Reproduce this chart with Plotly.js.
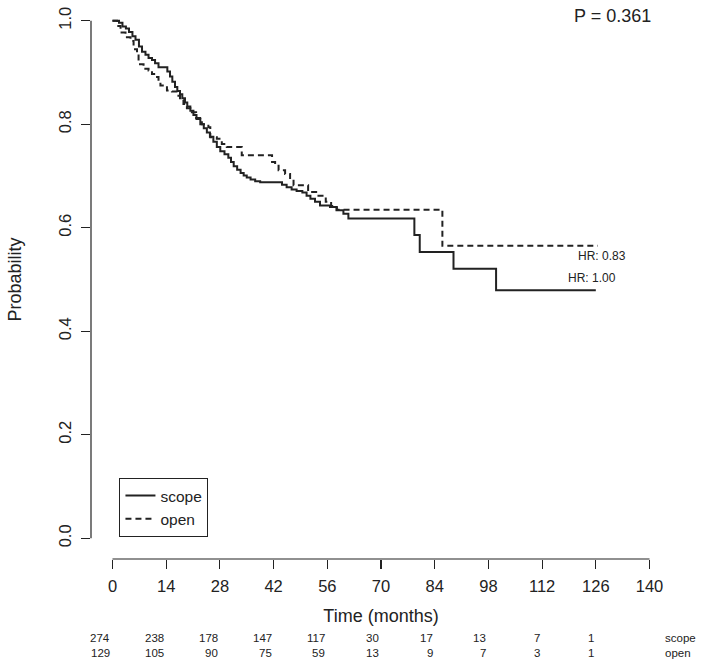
<!DOCTYPE html>
<html>
<head>
<meta charset="utf-8">
<script src="https://cdn.plot.ly/plotly-3.0.1.min.js"></script>
<style>html,body{margin:0;padding:0;background:#fff;}#chart{width:704px;height:666px;}</style>
</head>
<body>
<div id="chart"></div>
<script>
// Kaplan-Meier step data
const scopeTime = [0, 1.7, 2.6, 3.5, 4.3, 5.2, 6.0, 6.9, 7.7, 8.6, 9.4, 10.3, 11.1, 12.0, 14.3, 15.0, 15.6, 16.3, 16.9, 17.6, 18.2, 18.9, 19.5, 20.3, 21.1, 21.9, 22.9, 23.8, 24.6, 25.4, 26.3, 27.2, 28.1, 29.2, 30.2, 30.9, 31.6, 32.5, 33.4, 34.2, 35.0, 36.0, 37.2, 38.5, 44.2, 45.4, 46.7, 48.0, 49.5, 50.6, 51.6, 52.8, 54.1, 56.7, 58.4, 60.2, 61.5, 78.7, 80.1, 88.9, 100.0, 126.0];
const scopeSurv = [1.000, 0.996, 0.989, 0.985, 0.978, 0.970, 0.963, 0.950, 0.940, 0.934, 0.928, 0.924, 0.918, 0.910, 0.902, 0.892, 0.882, 0.872, 0.864, 0.858, 0.850, 0.842, 0.834, 0.826, 0.818, 0.810, 0.800, 0.792, 0.784, 0.776, 0.766, 0.756, 0.748, 0.742, 0.735, 0.727, 0.719, 0.712, 0.706, 0.701, 0.697, 0.693, 0.690, 0.688, 0.683, 0.678, 0.674, 0.671, 0.668, 0.662, 0.656, 0.650, 0.643, 0.640, 0.634, 0.627, 0.618, 0.586, 0.553, 0.521, 0.479, 0.479];

const openTime = [0, 1.2, 2.1, 3.4, 4.7, 5.5, 6.4, 6.8, 8.1, 9.4, 10.3, 11.2, 12.0, 12.5, 14.2, 15.5, 16.8, 17.6, 18.5, 19.4, 20.3, 21.8, 23.3, 25.0, 25.5, 27.2, 28.5, 29.8, 33.7, 41.6, 42.4, 43.3, 45.0, 46.3, 47.2, 51.0, 53.7, 55.6, 57.0, 58.5, 86.0, 126.5];
const openSurv = [1.000, 0.990, 0.977, 0.968, 0.961, 0.945, 0.936, 0.916, 0.907, 0.904, 0.897, 0.891, 0.883, 0.875, 0.865, 0.863, 0.855, 0.847, 0.839, 0.831, 0.823, 0.812, 0.800, 0.794, 0.775, 0.772, 0.762, 0.756, 0.740, 0.727, 0.720, 0.711, 0.704, 0.691, 0.682, 0.669, 0.662, 0.650, 0.642, 0.635, 0.565, 0.565];

const xTicks = [0, 14, 28, 42, 56, 70, 84, 98, 112, 126, 140];
const yTicks = [0, 0.2, 0.4, 0.6, 0.8, 1.0];
const riskTimes = [0, 14, 28, 42, 56, 70, 84, 98, 112, 126];
const riskScope = [274, 238, 178, 147, 117, 30, 17, 13, 7, 1];
const riskOpen = [129, 105, 90, 75, 59, 13, 9, 7, 3, 1];
const groupNames = ['scope', 'open'];
const hrLabels = ['HR: 1.00', 'HR: 0.83'];
const pValueText = 'P = 0.361';

const FONT = 'Liberation Sans, Arial, Helvetica, sans-serif';
const INK = '#222';

const traces = [
  {x: scopeTime, y: scopeSurv, name: groupNames[0], type: 'scatter', mode: 'lines',
   line: {shape: 'hv', color: INK, width: 2, dash: 'solid'}},
  {x: openTime, y: openSurv, name: groupNames[1], type: 'scatter', mode: 'lines',
   line: {shape: 'hv', color: INK, width: 2, dash: '6px,4px'}}
];

const H = 666, T = 0, B = 107, L = 90.5, R = 32.5, W = 704;
const plotH = H - T - B, plotW = W - L - R;
const rowY = [637.5, 652.5].map(py => (H - B - py) / plotH);

const annotations = [];
riskTimes.forEach((t, i) => {
  annotations.push({x: t, y: rowY[0], xref: 'x', yref: 'paper', text: String(riskScope[i]),
    showarrow: false, xanchor: 'right', yanchor: 'middle', font: {family: FONT, size: 11.5, color: INK}});
  annotations.push({x: t, y: rowY[1], xref: 'x', yref: 'paper', text: String(riskOpen[i]),
    showarrow: false, xanchor: 'right', yanchor: 'middle', font: {family: FONT, size: 11.5, color: INK}});
});
const labelX = (663 - L) / plotW;
groupNames.forEach((g, i) => {
  annotations.push({x: labelX, y: rowY[i], xref: 'paper', yref: 'paper', text: g,
    showarrow: false, xanchor: 'left', yanchor: 'middle', font: {family: FONT, size: 11.5, color: INK}});
});
annotations.push({x: 127.6, y: 0.546, xref: 'x', yref: 'y', text: hrLabels[1], showarrow: false,
  xanchor: 'center', yanchor: 'middle', font: {family: FONT, size: 12, color: INK}});
annotations.push({x: 125.0, y: 0.502, xref: 'x', yref: 'y', text: hrLabels[0], showarrow: false,
  xanchor: 'center', yanchor: 'middle', font: {family: FONT, size: 12, color: INK}});
annotations.push({x: 130.3, y: 1.01, xref: 'x', yref: 'y', text: pValueText, showarrow: false,
  xanchor: 'center', yanchor: 'middle', font: {family: FONT, size: 18, color: INK}});

const layout = {
  width: W, height: H,
  margin: {l: L, r: R, t: T, b: B, pad: 0},
  paper_bgcolor: '#fff', plot_bgcolor: '#fff',
  font: {family: FONT, color: INK},
  showlegend: true,
  legend: {x: (119 - L) / plotW, y: (559 - 478) / 559, xanchor: 'left', yanchor: 'top',
    bordercolor: INK, borderwidth: 1, bgcolor: '#fff',
    font: {family: FONT, size: 15.5, color: INK}, tracegroupgap: 0},
  xaxis: {range: [-5.6, 145.6], tickmode: 'array', tickvals: xTicks, ticktext: xTicks.map(String),
    ticks: 'outside', ticklen: 8.5, tickwidth: 1.2, tickcolor: INK, showline: false, showgrid: false,
    zeroline: false, tickfont: {family: FONT, size: 16.5, color: INK}, ticklabelstandoff: 4,
    title: {text: 'Time (months)', font: {family: FONT, size: 18, color: INK}, standoff: 15},
    automargin: false, fixedrange: true},
  yaxis: {range: [-0.04, 1.04], tickmode: 'array', tickvals: yTicks, ticktext: yTicks.map(v => v.toFixed(1)),
    ticks: 'outside', ticklen: 9, tickwidth: 1.2, tickcolor: INK, showline: false, showgrid: false,
    zeroline: false, tickangle: -90, tickfont: {family: FONT, size: 16.5, color: INK}, ticklabelstandoff: 3,
    title: {text: 'Probability', font: {family: FONT, size: 18, color: INK}, standoff: 30},
    automargin: false, fixedrange: true},
  shapes: [
    {type: 'line', xref: 'x', yref: 'paper', x0: xTicks[0], x1: xTicks[xTicks.length - 1], y0: 0, y1: 0,
     line: {color: INK, width: 1.2}},
    {type: 'line', xref: 'paper', yref: 'y', x0: 0, x1: 0, y0: yTicks[0], y1: yTicks[yTicks.length - 1],
     line: {color: INK, width: 1.2}}
  ],
  annotations: annotations
};

Plotly.newPlot('chart', traces, layout, {staticPlot: true, displayModeBar: false});
</script>
</body>
</html>
